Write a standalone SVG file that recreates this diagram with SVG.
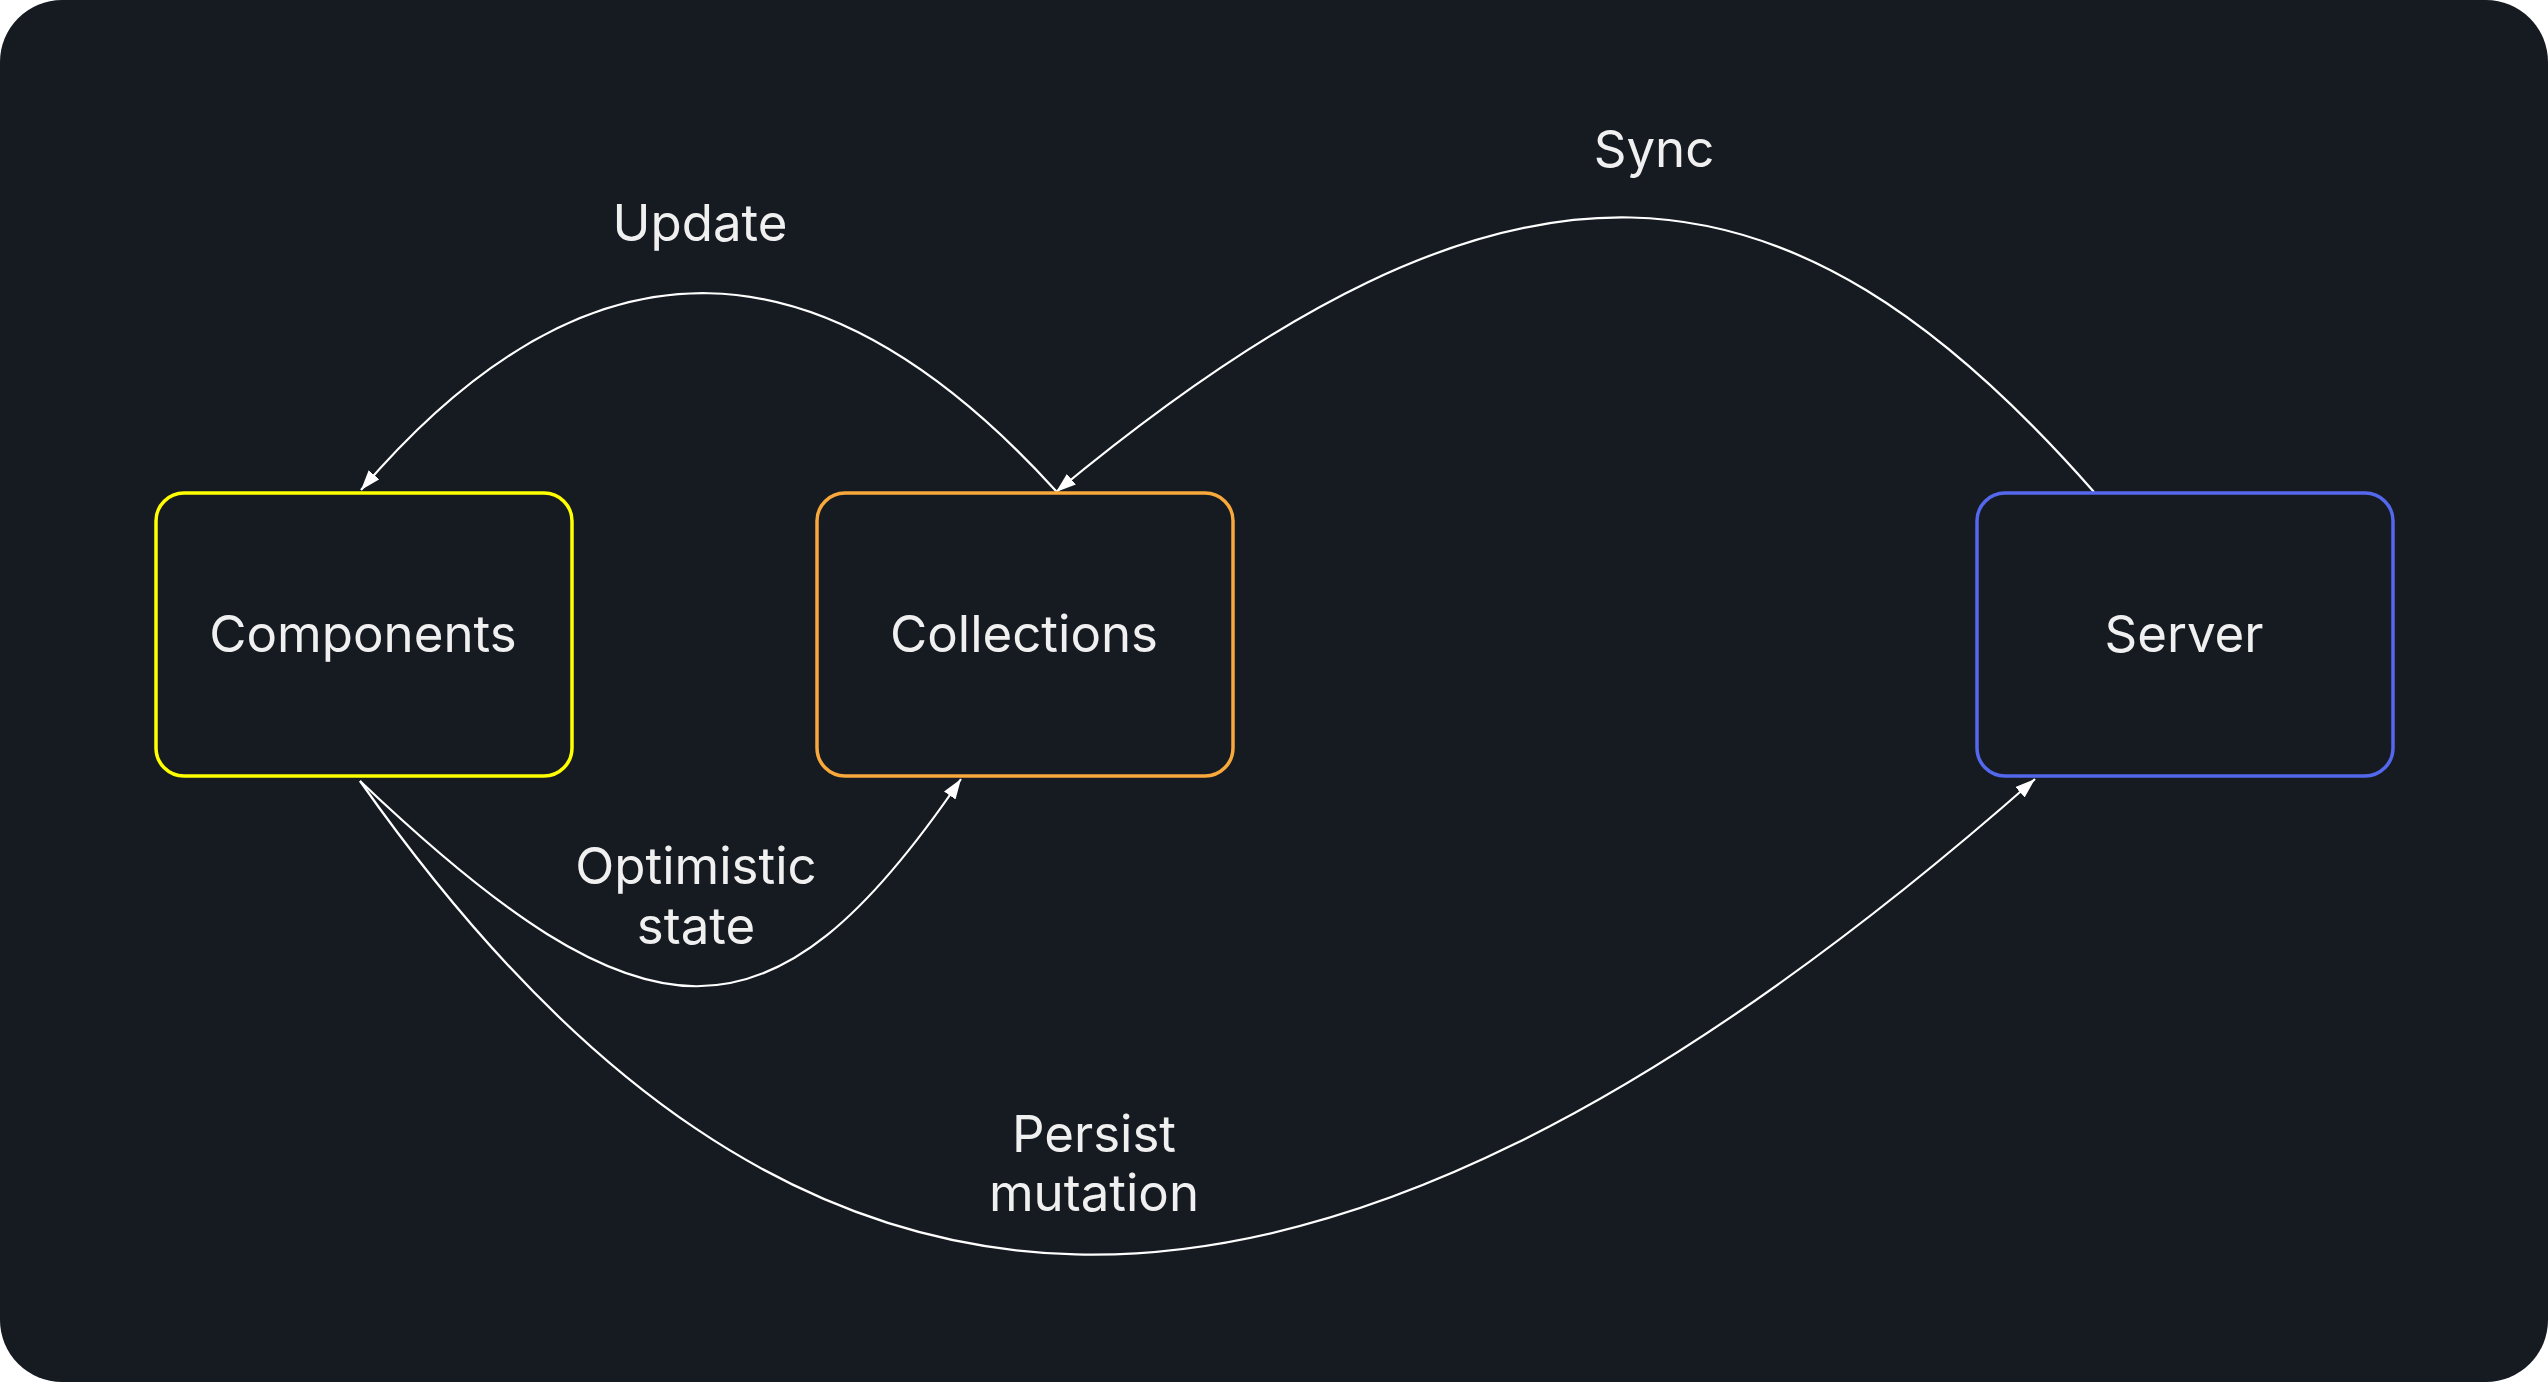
<svg xmlns="http://www.w3.org/2000/svg" width="2548" height="1382" viewBox="0 0 2548 1382">
<style>
.bg{fill:#161b22}
.node{fill:#161b22;stroke-width:3.5}
.lbl{font-family:Inter,"Liberation Sans",sans-serif;font-size:51px;fill:#f0f0f0;text-anchor:middle}
.edge{fill:none;stroke:#ffffff;stroke-width:2.2}
</style>
<defs>
<marker id="arr" markerUnits="userSpaceOnUse" markerWidth="20" markerHeight="14" refX="20" refY="7" orient="auto" viewBox="0 0 20 14">
<path d="M0,0 L20,7 L0,14 Z" fill="#ffffff"/>
</marker>
</defs>
<rect width="2548" height="1382" fill="#ffffff"/>
<rect class="bg" x="0" y="0" width="2548" height="1382" rx="62" ry="62"/>
<g id="connectors">
<path id="e-update" class="edge" d="M1056,491 C824,236 593,219 361,490" marker-end="url(#arr)"/>
<path id="e-sync" class="edge" d="M2094,492 C1785,140 1514,112 1056,492" marker-end="url(#arr)"/>
<path id="e-optimistic" class="edge" d="M360,781 C645,1052 771,1058 961,779" marker-end="url(#arr)"/>
<path id="e-persist" class="edge" d="M360,781 C785,1385 1285,1440 2035,779" marker-end="url(#arr)"/>
<text class="lbl" x="700" y="241">Update</text>
<text class="lbl" x="1654" y="167">Sync</text>
<text class="lbl" x="696" y="884">Optimistic</text>
<text class="lbl" x="696" y="944">state</text>
<text class="lbl" x="1094" y="1152">Persist</text>
<text class="lbl" x="1094" y="1211">mutation</text>
</g>
<g id="components">
<rect class="node" x="156" y="493" width="416" height="283" rx="28" stroke="#ffff00"/>
<text class="lbl" x="363" y="652">Components</text>
</g>
<g id="collections">
<rect class="node" x="817" y="493" width="416" height="283" rx="28" stroke="#f9a83b"/>
<text class="lbl" x="1024" y="652">Collections</text>
</g>
<g id="server">
<rect class="node" x="1977" y="493" width="416" height="283" rx="28" stroke="#5468ee"/>
<text class="lbl" x="2184" y="652">Server</text>
</g>
</svg>
